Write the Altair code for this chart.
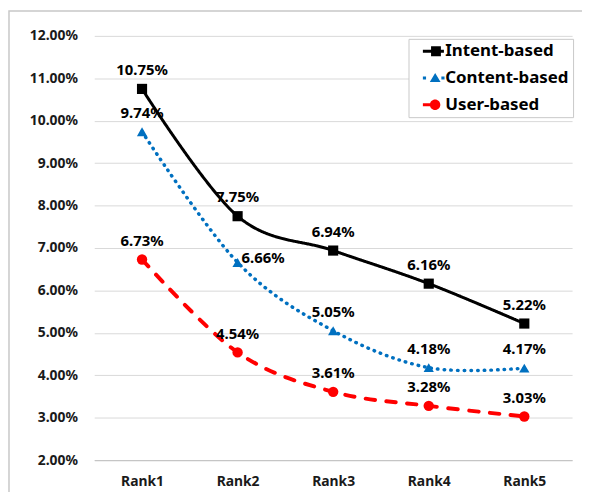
import altair as alt
import pandas as pd

# ---- data ----
ranks = ["Rank1", "Rank2", "Rank3", "Rank4", "Rank5"]
series_names = ["Intent-based", "Content-based", "User-based"]
intent = [10.75, 7.75, 6.94, 6.16, 5.22]
content = [9.74, 6.66, 5.05, 4.18, 4.17]
user = [6.73, 4.54, 3.61, 3.28, 3.03]
y_ticks = [2, 3, 4, 5, 6, 7, 8, 9, 10, 11, 12]
colors = ["#000000", "#0070C0", "#FF0000"]
labels_right_of_point = [("Content-based", "Rank2")]

rows = []
for name, vals in zip(series_names, [intent, content, user]):
    for r, v in zip(ranks, vals):
        rows.append({
            "series": name,
            "rank": r,
            "pct": v,
            "pos": "right" if (name, r) in labels_right_of_point else "above",
        })
df = pd.DataFrame(rows)

FONT = "Noto Sans"
W, H = 482, 428

def color_scale():
    return alt.Scale(domain=series_names, range=colors)

x_enc = alt.X(
    "rank:N",
    sort=ranks,
    scale=alt.Scale(type="point", domain=ranks, padding=0.5),
    axis=alt.Axis(title=None, labelAngle=0, ticks=False, grid=False,
                  domainColor="#bfbfbf", domainWidth=1, labelPadding=15,
                  labelFont=FONT, labelFontSize=14, labelFontWeight="bold",
                  labelColor="#1a1a1a"),
)
y_enc = alt.Y(
    "pct:Q",
    scale=alt.Scale(domain=[2, 12], nice=False, zero=False),
    axis=alt.Axis(title=None, values=y_ticks, domain=False, ticks=False,
                  grid=True, gridColor="#d9d9d9", gridWidth=1,
                  labelExpr="format(datum.value, '.2f') + '%'",
                  labelPadding=17, labelFont=FONT, labelFontSize=14,
                  labelFontWeight="bold", labelColor="#1a1a1a"),
)

base = alt.Chart(df).encode(x=x_enc, y=y_enc)

# legend symbols: short line segment + marker (custom paths)
p_intent = "M0.25,-0.2H2.9V0.2H0.25Z M1.28,-0.64H2.52V0.64H1.28Z"
p_content = ("M0.25,-0.2H0.65V0.2H0.25Z M2.58,-0.2H2.98V0.2H2.58Z "
             "M1.8,-0.62L2.48,0.52H1.12Z")
p_user = ("M0.25,-0.2H1.75V0.2H0.25Z "
          "M2.45,0A0.66,0.66 0 1,1 1.13,0A0.66,0.66 0 1,1 2.45,0Z")

def make_legend():
    return alt.Legend(
        title=None, orient="none", legendX=317, legendY=3, direction="vertical",
        symbolSize=256, labelOffset=16, rowPadding=9, padding=4,
        strokeColor="#c8c8c8", fillColor="white",
        labelFont=FONT, labelFontSize=17, labelFontWeight="bold", labelColor="#000000",
        symbolStrokeWidth=0, symbolOpacity=1,
        labelExpr="datum.label + '\u00a0\u00a0'",
    )

border = alt.Chart(alt.Data(values=[{}])).mark_rect(
    fill="transparent", stroke="#c8c8c8", strokeWidth=1.5
).encode(x=alt.value(-86), x2=alt.value(700), y=alt.value(-25), y2=alt.value(700))

lines = base.mark_line(interpolate="cardinal", strokeCap="round").encode(
    color=alt.Color("series:N", scale=color_scale(), legend=None),
    strokeDash=alt.StrokeDash(
        "series:N",
        scale=alt.Scale(domain=series_names, range=[[1, 0], [0.5, 6.2], [9.5, 11.5]]),
        legend=None,
    ),
    strokeWidth=alt.StrokeWidth(
        "series:N", scale=alt.Scale(domain=series_names, range=[3, 4, 3.5]), legend=None
    ),
)

points = base.mark_point(filled=True, opacity=1, strokeWidth=0).encode(
    color=alt.Color("series:N", scale=color_scale(), legend=None),
    shape=alt.Shape(
        "series:N",
        scale=alt.Scale(domain=series_names, range=["square", "triangle-up", "circle"]),
        legend=None,
    ),
    size=alt.Size(
        "series:N", scale=alt.Scale(domain=series_names, range=[105, 110, 85]), legend=None
    ),
)

# invisible layer whose only role is the legend (line + marker symbols)
legend_layer = base.mark_point(filled=True, opacity=0, strokeWidth=0).encode(
    color=alt.Color("series:N", scale=color_scale(), legend=make_legend()),
    shape=alt.Shape(
        "series:N",
        scale=alt.Scale(domain=series_names, range=[p_intent, p_content, p_user]),
        legend=make_legend(),
    ),
)

text_base = base.transform_calculate(label="format(datum.pct, '.2f') + '%'")
labels_above = text_base.transform_filter("datum.pos == 'above'").mark_text(
    dy=-19, font=FONT, fontSize=15, fontWeight="bold", color="#000000"
).encode(text="label:N")
labels_right = text_base.transform_filter("datum.pos == 'right'").mark_text(
    align="left", dx=4, dy=-4, font=FONT, fontSize=15, fontWeight="bold", color="#000000"
).encode(text="label:N")

chart = alt.layer(
    border, lines, points, labels_above, labels_right, legend_layer
).resolve_scale(
    color="independent", shape="independent"
).properties(
    width=W,
    height=H,
    padding={"left": 87, "top": 26, "right": 10, "bottom": 30},
    autosize=alt.AutoSizeParams(type="none"),
    background="white",
).configure_view(stroke=None)

chart.save("out.html", embed_options={"renderer": "svg", "actions": False})
